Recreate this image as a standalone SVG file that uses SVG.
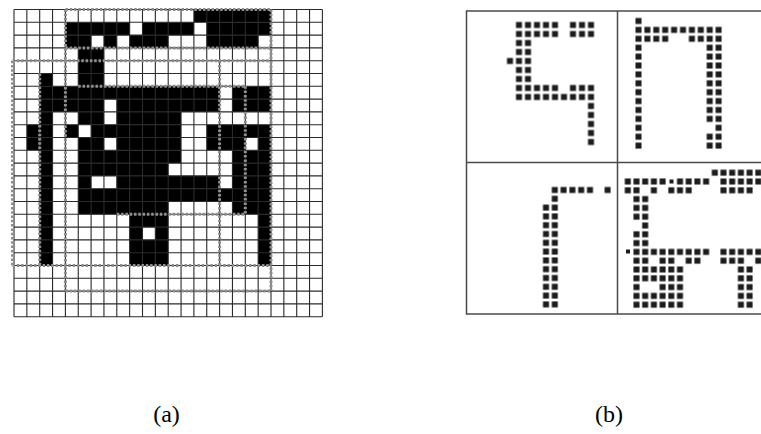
<svg xmlns="http://www.w3.org/2000/svg" width="761" height="434" viewBox="0 0 761 434">
<style>
.grid{fill:none;stroke:#2a2a2a;stroke-width:1.1}
.dots{fill:none;stroke:#8e8e8e;stroke-width:3;stroke-dasharray:2.5 1.8}
.frame{fill:none;stroke:#4a4a4a;stroke-width:1.5}
.lbl{font-family:"Liberation Serif","Times New Roman",serif;font-size:24px;fill:#000;text-anchor:middle}
</style>
<defs>
<pattern id="pTL" patternUnits="userSpaceOnUse" x="505.5" y="20.5" width="9" height="9"><rect x="1.5" y="1.5" width="6" height="6" fill="#1c1c1c"/></pattern>
<pattern id="pTR" patternUnits="userSpaceOnUse" x="634.05" y="16.55" width="8.9" height="8.9"><rect x="1.45" y="1.45" width="6" height="6" fill="#1c1c1c"/></pattern>
<pattern id="pBL" patternUnits="userSpaceOnUse" x="541.6" y="185.6" width="8.8" height="8.8"><rect x="1.4" y="1.4" width="6" height="6" fill="#1c1c1c"/></pattern>
<pattern id="pBR" patternUnits="userSpaceOnUse" x="623.45" y="168.3" width="8.7" height="8.8"><rect x="1.35" y="1.4" width="6" height="6" fill="#1c1c1c"/></pattern>
</defs>
<rect width="761" height="434" fill="#fff"/>
<g id="panel-a">
<g id="cells-a" transform="translate(14,9.5) scale(12.85,12.8)" fill="#000">
<rect x="14" y="0" width="6" height="1"/>
<rect x="4" y="1" width="5" height="1"/><rect x="10" y="1" width="4" height="1"/><rect x="15" y="1" width="5" height="1"/>
<rect x="4" y="2" width="2" height="1"/><rect x="7" y="2" width="1" height="1"/><rect x="9" y="2" width="3" height="1"/><rect x="15" y="2" width="4" height="1"/>
<rect x="5" y="3" width="2" height="3"/>
<rect x="2" y="5" width="1" height="15"/>
<rect x="2" y="6" width="14" height="1"/><rect x="17" y="6" width="3" height="2"/>
<rect x="2" y="7" width="5" height="1"/><rect x="8" y="7" width="8" height="1"/>
<rect x="5" y="8" width="2" height="1"/><rect x="8" y="8" width="5" height="1"/>
<rect x="1" y="9" width="1" height="2"/><rect x="4" y="9" width="1" height="1"/><rect x="6" y="9" width="7" height="1"/><rect x="15" y="9" width="5" height="1"/>
<rect x="5" y="10" width="2" height="1"/><rect x="8" y="10" width="5" height="1"/><rect x="15" y="10" width="3" height="1"/><rect x="19" y="10" width="1" height="1"/>
<rect x="5" y="11" width="8" height="1"/><rect x="17" y="11" width="3" height="5"/>
<rect x="5" y="12" width="7" height="1"/>
<rect x="5" y="13" width="1" height="1"/><rect x="8" y="13" width="8" height="1"/>
<rect x="5" y="14" width="15" height="1"/>
<rect x="5" y="15" width="7" height="1"/>
<rect x="9" y="16" width="3" height="4"/><rect x="19" y="16" width="1" height="4"/>
<rect x="10" y="17" width="1" height="1" fill="#fff"/>
</g>
<path class="grid" d="M14 9.5V316.7M26.85 9.5V316.7M39.7 9.5V316.7M52.55 9.5V316.7M65.4 9.5V316.7M78.25 9.5V316.7M91.1 9.5V316.7M103.95 9.5V316.7M116.8 9.5V316.7M129.65 9.5V316.7M142.5 9.5V316.7M155.35 9.5V316.7M168.2 9.5V316.7M181.05 9.5V316.7M193.9 9.5V316.7M206.75 9.5V316.7M219.6 9.5V316.7M232.45 9.5V316.7M245.3 9.5V316.7M258.15 9.5V316.7M271 9.5V316.7M283.85 9.5V316.7M296.7 9.5V316.7M309.55 9.5V316.7M322.4 9.5V316.7M14 9.5H322.4M14 22.3H322.4M14 35.1H322.4M14 47.9H322.4M14 60.7H322.4M14 73.5H322.4M14 86.3H322.4M14 99.1H322.4M14 111.9H322.4M14 124.7H322.4M14 137.5H322.4M14 150.3H322.4M14 163.1H322.4M14 175.9H322.4M14 188.7H322.4M14 201.5H322.4M14 214.3H322.4M14 227.1H322.4M14 239.9H322.4M14 252.7H322.4M14 265.5H322.4M14 278.3H322.4M14 291.1H322.4M14 303.9H322.4M14 316.7H322.4"/>
<path class="dots" d="M12.5 60.7V266M12.5 60.7H271M12.5 265.5H271M65.4 9.5V291.1M271 9.5V291.1M65.4 9.5H271M65.4 47.9H271M78.25 86.3H245.3M219.6 60.7V265.5M245.3 86.3V214.3M116.8 214.3H245.3M65.4 291.1H271M39.7 73.5V265.5"/>
</g>
<g id="panel-b">
<rect class="frame" x="466.5" y="11" width="300" height="303"/>
<path class="frame" d="M617.5 11V314M466.5 162.5H761"/>
<g id="glyph-tl" fill="url(#pTL)">
<rect x="514.5" y="20.5" width="45" height="18"/><rect x="568.5" y="20.5" width="27" height="18"/>
<rect x="514.5" y="38.5" width="18" height="45"/><rect x="505.5" y="56.5" width="9" height="9"/>
<rect x="514.5" y="83.5" width="45" height="9"/><rect x="568.5" y="83.5" width="27" height="9"/>
<rect x="514.5" y="92.5" width="81" height="9"/>
<rect x="586.5" y="101.5" width="9" height="45"/>
</g>
<g id="glyph-tr" fill="url(#pTR)">
<rect x="634.05" y="16.55" width="8.9" height="133.5"/>
<rect x="642.95" y="25.45" width="80.1" height="8.9"/>
<rect x="642.95" y="34.35" width="26.7" height="8.9"/><rect x="687.45" y="34.35" width="35.6" height="8.9"/>
<rect x="705.25" y="43.25" width="17.8" height="80.1"/>
<rect x="714.15" y="123.35" width="8.9" height="8.9"/>
<rect x="705.25" y="132.25" width="17.8" height="17.8"/>
</g>
<g id="glyph-bl" fill="url(#pBL)">
<rect x="550.4" y="185.6" width="44" height="8.8"/><rect x="603.2" y="185.6" width="8.8" height="8.8"/>
<rect x="550.4" y="194.4" width="8.8" height="8.8"/>
<rect x="541.6" y="203.2" width="17.6" height="105.6"/>
</g>
<g id="glyph-br" fill="url(#pBR)">
<rect x="710.45" y="168.3" width="52.2" height="8.8"/>
<rect x="623.45" y="177.1" width="43.5" height="8.8"/><rect x="675.65" y="177.1" width="34.8" height="8.8"/><rect x="719.15" y="177.1" width="43.5" height="8.8"/>
<rect x="623.45" y="185.9" width="17.4" height="8.8"/><rect x="649.55" y="185.9" width="8.7" height="8.8"/><rect x="666.95" y="185.9" width="26.1" height="8.8"/><rect x="719.15" y="185.9" width="34.8" height="8.8"/>
<rect x="632.15" y="194.7" width="17.4" height="26.4"/>
<rect x="640.85" y="221.1" width="8.7" height="8.8"/>
<rect x="632.15" y="229.9" width="17.4" height="17.6"/>
<rect x="632.15" y="247.5" width="78.3" height="8.8"/><rect x="719.15" y="247.5" width="43.5" height="8.8"/>
<rect x="632.15" y="256.3" width="17.4" height="8.8"/><rect x="658.25" y="256.3" width="17.4" height="8.8"/><rect x="684.35" y="256.3" width="17.4" height="8.8"/><rect x="719.15" y="256.3" width="26.1" height="8.8"/><rect x="753.95" y="256.3" width="8.7" height="8.8"/>
<rect x="632.15" y="265.1" width="52.2" height="17.6"/>
<rect x="632.15" y="282.7" width="8.7" height="8.8"/><rect x="658.25" y="282.7" width="26.1" height="8.8"/>
<rect x="632.15" y="291.5" width="52.2" height="17.6"/>
<rect x="736.55" y="265.1" width="17.4" height="44"/>
</g>
<g id="glyph-br-small" fill="#1c1c1c">
<rect x="626" y="249.5" width="4" height="4"/><rect x="669.5" y="179.5" width="4" height="4"/>
</g>
</g>
<text class="lbl" x="166.5" y="422">(a)</text>
<text class="lbl" x="609" y="422">(b)</text>
</svg>
